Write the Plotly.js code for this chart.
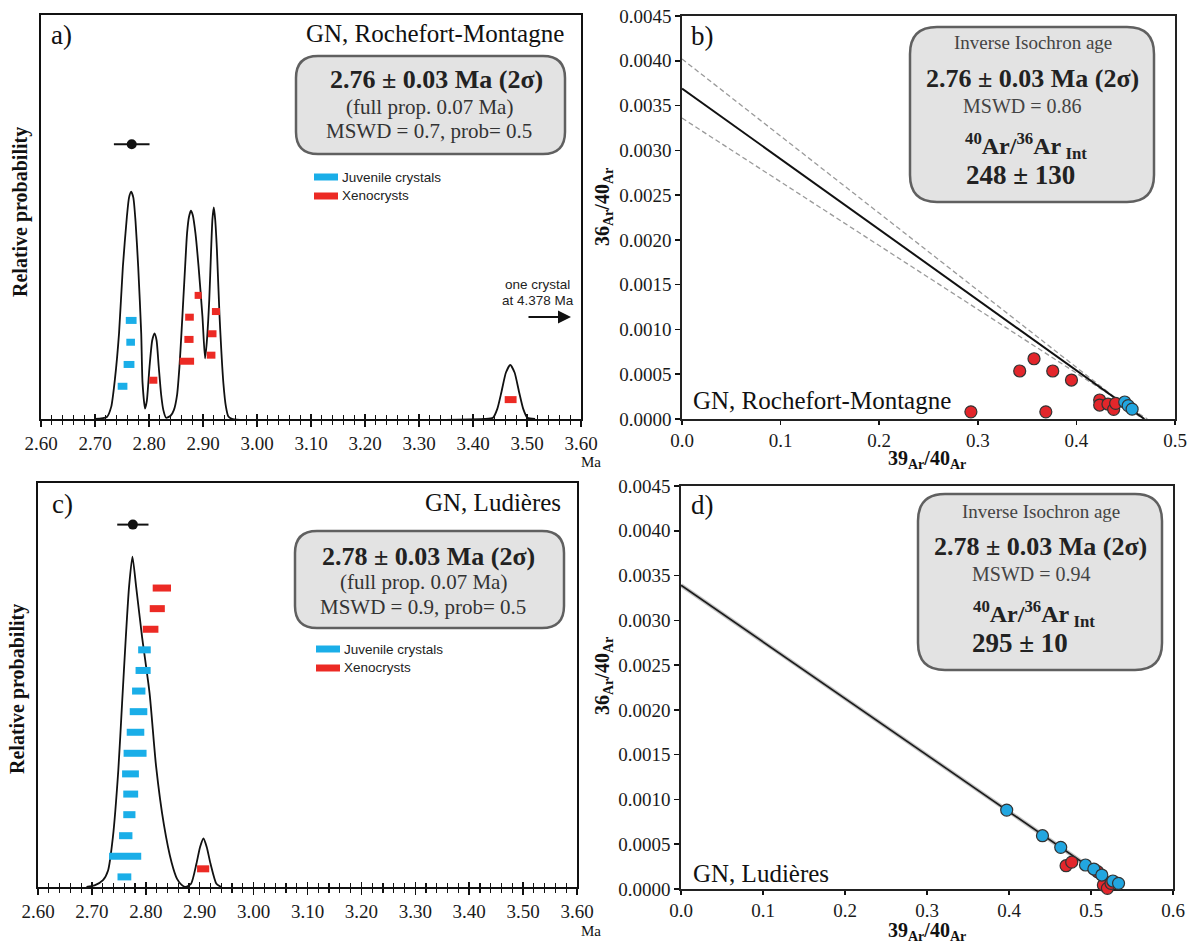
<!DOCTYPE html>
<html>
<head>
<meta charset="utf-8">
<script src="https://cdn.plot.ly/plotly-3.0.1.min.js"></script>
<style>html,body{margin:0;padding:0;background:#fff;}#chart{width:1198px;height:946px;}</style>
</head>
<body>
<div id="chart"></div>
<script>
// ---------------- DATA ----------------
// Panel a: probability density curve (age in Ma, relative probability)
const aCurveAge = [2.700, 2.722, 2.730, 2.737, 2.7445, 2.7516, 2.759, 2.763, 2.767, 2.771, 2.775, 2.780, 2.7856, 2.788, 2.7926,
  2.796, 2.801, 2.806, 2.8103, 2.814, 2.818, 2.8225, 2.8266, 2.8316,
  2.840, 2.846, 2.852, 2.8564, 2.860, 2.8635, 2.867, 2.8705, 2.874, 2.8776, 2.881, 2.886, 2.8918, 2.899, 2.9038,
  2.907, 2.9116, 2.915, 2.9175, 2.920, 2.9225, 2.9258, 2.9307, 2.9378, 2.9425, 2.947, 2.955,
  3.420, 3.437, 3.445, 3.4527, 3.461, 3.469, 3.477, 3.4853, 3.493, 3.5008, 3.515];
const aCurveProb = [0.000, 0.005, 0.030, 0.100, 0.212, 0.377, 0.500, 0.548, 0.563, 0.548, 0.490, 0.377, 0.212, 0.090, 0.026,
  0.045, 0.130, 0.195, 0.212, 0.195, 0.130, 0.060, 0.022, 0.003,
  0.008, 0.022, 0.060, 0.130, 0.210, 0.295, 0.380, 0.460, 0.500, 0.516, 0.505, 0.460, 0.377, 0.253, 0.150,
  0.190, 0.295, 0.418, 0.495, 0.524, 0.495, 0.418, 0.253, 0.088, 0.030, 0.006, 0.000,
  0.000, 0.003, 0.025, 0.067, 0.115, 0.134, 0.115, 0.067, 0.025, 0.003, 0.000];
// Panel a: single crystal ages (Ma), uncertainties, stacking level, group
const aBarAge   = [2.767, 2.766, 2.763, 2.751, 2.808, 2.870, 2.874, 2.875, 2.891, 2.915, 2.917, 2.924, 3.4697];
const aBarErr   = [0.010, 0.008, 0.010, 0.009, 0.0075, 0.0135, 0.0085, 0.008, 0.0065, 0.008, 0.008, 0.0075, 0.011];
const aBarLevel = [0.244, 0.190, 0.135, 0.081, 0.096, 0.143, 0.197, 0.252, 0.306, 0.158, 0.211, 0.266, 0.048];
const aBarGroup = ['J','J','J','J','X','X','X','X','X','X','X','X','X'];
const aMeanAge = [2.768], aMeanErr = [0.033], aMeanLevel = [0.680];

// Panel b: inverse isochron, Rochefort-Montagne
const bXenoX = [0.293, 0.3425, 0.357, 0.369, 0.376, 0.395, 0.4236, 0.4236, 0.432, 0.4378, 0.4398];
const bXenoY = [0.00008, 0.000536, 0.000673, 0.00008, 0.000536, 0.000435, 0.000212, 0.000156, 0.000167, 0.000108, 0.000175];
const bJuvX = [0.449, 0.4525, 0.4565];
const bJuvY = [0.00019, 0.00015, 0.00011];
const bFitX = [0, 0.469],   bFitY = [0.00369, 0];
const bUpX  = [0, 0.467],   bUpY  = [0.00402, 0];
const bLoX  = [0, 0.472],   bLoY  = [0.00336, 0];

// Panel c: probability density curve, Ludières
const cCurveAge = [2.690, 2.705, 2.7206, 2.730, 2.739, 2.749, 2.756, 2.763, 2.769, 2.7752, 2.782, 2.793, 2.807, 2.819, 2.8335, 2.848, 2.858, 2.866, 2.874,
  2.884, 2.894, 2.9007, 2.907, 2.913, 2.920, 2.931, 2.940];
const cCurveProb = [0.000, 0.004, 0.017, 0.041, 0.124, 0.289, 0.455, 0.620, 0.744, 0.818, 0.744, 0.620, 0.480, 0.300, 0.155, 0.060, 0.020, 0.006, 0.000,
  0.008, 0.058, 0.099, 0.120, 0.099, 0.058, 0.008, 0.000];
const cBarAge   = [2.8298, 2.8213, 2.8089, 2.7975, 2.795, 2.7869, 2.7865, 2.7809, 2.7801, 2.7716, 2.772, 2.7695, 2.7628, 2.7617, 2.7603, 2.9064];
const cBarErr   = [0.017, 0.014, 0.0145, 0.0117, 0.014, 0.0124, 0.0163, 0.0163, 0.0213, 0.0156, 0.0138, 0.0113, 0.0124, 0.0298, 0.0128, 0.0113];
const cBarLevel = [0.740, 0.689, 0.638, 0.587, 0.536, 0.485, 0.434, 0.383, 0.331, 0.280, 0.230, 0.179, 0.127, 0.076, 0.025, 0.045];
const cBarGroup = ['X','X','X','J','J','J','J','J','J','J','J','J','J','J','J','X'];
const cMeanAge = [2.776], cMeanErr = [0.029], cMeanLevel = [0.897];

// Panel d: inverse isochron, Ludières
const dXenoX = [0.4696, 0.4765, 0.5081, 0.5151, 0.520, 0.5244];
const dXenoY = [0.00026, 0.00030, 0.000193, 0.0000446, 0.0000074, 0.000063];
const dJuvX = [0.3972, 0.4408, 0.4631, 0.4933, 0.5035, 0.5132, 0.5267, 0.5336];
const dJuvY = [0.000881, 0.000595, 0.000465, 0.000268, 0.000223, 0.000156, 0.0000893, 0.000063];
const dFitX = [0, 0.5365], dFitY = [0.003392, 0];

// Axis tick labels
const ageTicks = [2.6, 2.7, 2.8, 2.9, 3.0, 3.1, 3.2, 3.3, 3.4, 3.5, 3.6];

// ---------------- STYLE / HELPERS ----------------
const W = 1198, H = 946;
const px = x => x / W;
const py = y => 1 - y / H;
const SERIF = 'Liberation Serif, DejaVu Serif, serif';
const SANS = 'Liberation Sans Narrow, Liberation Sans, Arial, sans-serif';
const BLUE = '#1aaee8', RED = '#ec2a24';
const PBLUE = '#22a6e0', PRED = '#e3262b';

function segs(ages, errs, levels, groups, g) {
  const x = [], y = [];
  ages.forEach((a, i) => {
    if (groups[i] !== g) return;
    x.push(a - errs[i], a + errs[i], null);
    y.push(levels[i], levels[i], null);
  });
  return {x, y};
}

function rrect(x0, y0, x1, y1, r) {
  const X = px, Y = py;
  return `M ${X(x0 + r)},${Y(y0)} L ${X(x1 - r)},${Y(y0)} Q ${X(x1)},${Y(y0)} ${X(x1)},${Y(y0 + r)} ` +
    `L ${X(x1)},${Y(y1 - r)} Q ${X(x1)},${Y(y1)} ${X(x1 - r)},${Y(y1)} L ${X(x0 + r)},${Y(y1)} ` +
    `Q ${X(x0)},${Y(y1)} ${X(x0)},${Y(y1 - r)} L ${X(x0)},${Y(y0 + r)} Q ${X(x0)},${Y(y0)} ${X(x0 + r)},${Y(y0)} Z`;
}

function ann(text, x, y, size, o = {}) {
  const font = Object.assign({family: SERIF, size: size, color: '#111'}, o.font || {});
  return Object.assign({
    text, x: px(x), y: py(y), xref: 'paper', yref: 'paper', showarrow: false,
    xanchor: 'center', yanchor: 'middle', borderpad: 0
  }, o, {font});
}

// ---------------- TRACES ----------------
const traces = [];
function probPanel(xa, ya, cAge, cProb, bAge, bErr, bLev, bGrp, mAge, mErr, mLev) {
  traces.push({x: cAge, y: cProb, xaxis: xa, yaxis: ya, mode: 'lines',
    line: {color: '#111', width: 1.8, shape: 'spline', smoothing: 0.6}, cliponaxis: false, hoverinfo: 'skip'});
  const sj = segs(bAge, bErr, bLev, bGrp, 'J');
  const sx = segs(bAge, bErr, bLev, bGrp, 'X');
  traces.push({x: sj.x, y: sj.y, xaxis: xa, yaxis: ya, mode: 'lines', line: {color: BLUE, width: 7}, connectgaps: false});
  traces.push({x: sx.x, y: sx.y, xaxis: xa, yaxis: ya, mode: 'lines', line: {color: RED, width: 7}, connectgaps: false});
  traces.push({x: mAge, y: mLev, xaxis: xa, yaxis: ya, mode: 'markers',
    marker: {color: '#111', size: 10},
    error_x: {type: 'data', array: mErr, visible: true, color: '#111', thickness: 2, width: 0}});
}
probPanel('x', 'y', aCurveAge, aCurveProb, aBarAge, aBarErr, aBarLevel, aBarGroup, aMeanAge, aMeanErr, aMeanLevel);
probPanel('x3', 'y3', cCurveAge, cCurveProb, cBarAge, cBarErr, cBarLevel, cBarGroup, cMeanAge, cMeanErr, cMeanLevel);
// overlay axes for crossing ticks
traces.push({x: [], y: [], xaxis: 'x5', yaxis: 'y', mode: 'lines'});
traces.push({x: [], y: [], xaxis: 'x6', yaxis: 'y3', mode: 'lines'});

// Panel b
traces.push({x: bUpX, y: bUpY, xaxis: 'x2', yaxis: 'y2', mode: 'lines', line: {color: '#9a9a9a', width: 1.3, dash: '5px,3px'}});
traces.push({x: bLoX, y: bLoY, xaxis: 'x2', yaxis: 'y2', mode: 'lines', line: {color: '#9a9a9a', width: 1.3, dash: '5px,3px'}});
traces.push({x: bFitX, y: bFitY, xaxis: 'x2', yaxis: 'y2', mode: 'lines', line: {color: '#111', width: 2}});
traces.push({x: bXenoX, y: bXenoY, xaxis: 'x2', yaxis: 'y2', mode: 'markers', cliponaxis: false,
  marker: {color: PRED, size: 12, line: {color: '#333', width: 1.2}}});
traces.push({x: bJuvX, y: bJuvY, xaxis: 'x2', yaxis: 'y2', mode: 'markers', cliponaxis: false,
  marker: {color: PBLUE, size: 12, line: {color: '#333', width: 1.2}}});

// Panel d
traces.push({x: dFitX, y: dFitY, xaxis: 'x4', yaxis: 'y4', mode: 'lines', line: {color: 'rgba(120,120,120,0.45)', width: 4}});
traces.push({x: dFitX, y: dFitY, xaxis: 'x4', yaxis: 'y4', mode: 'lines', line: {color: '#1a1a1a', width: 1.6}});
traces.push({x: dXenoX, y: dXenoY, xaxis: 'x4', yaxis: 'y4', mode: 'markers', cliponaxis: false,
  marker: {color: PRED, size: 12, line: {color: '#333', width: 1.2}}});
traces.push({x: dJuvX, y: dJuvY, xaxis: 'x4', yaxis: 'y4', mode: 'markers', cliponaxis: false,
  marker: {color: PBLUE, size: 12, line: {color: '#333', width: 1.2}}});

// ---------------- AXES ----------------
const tickFont = () => ({family: SERIF, size: 19, color: '#1a1a1a'});
function ageAxis(d0, d1, anchor) {
  return {domain: [px(d0), px(d1)], range: [2.6, 3.6], anchor, tickvals: ageTicks, tickformat: '.2f',
    ticks: 'outside', ticklen: 6, tickwidth: 1.5, tickcolor: '#111',
    minor: {dtick: 0.02, tick0: 2.6, ticks: 'outside', ticklen: 4, tickwidth: 1.2, tickcolor: '#111', showgrid: false},
    showline: true, mirror: true, linewidth: 2, linecolor: '#111', showgrid: false, zeroline: false,
    tickfont: tickFont(), fixedrange: true, layer: 'below traces'};
}
function overAxis(over, anchor) {
  return {overlaying: over, anchor, range: [2.6, 3.6], tickvals: ageTicks, ticks: 'inside', ticklen: 5, tickwidth: 1.5,
    tickcolor: '#111', minor: {dtick: 0.02, tick0: 2.6, ticks: 'inside', ticklen: 4, tickwidth: 1.2, tickcolor: '#111'},
    showticklabels: false, showline: false, showgrid: false, zeroline: false};
}
function probY(d0, d1, anchor) {
  return {domain: [py(d0), py(d1)], range: [0, 1], anchor, showticklabels: false, ticks: '',
    showline: true, mirror: true, linewidth: 2, linecolor: '#111', showgrid: false, zeroline: false, layer: 'below traces'};
}
function isoX(d0, d1, anchor, max) {
  return {domain: [px(d0), px(d1)], range: [0, max], anchor, dtick: 0.1, tick0: 0, tickformat: '.1f',
    ticks: 'outside', ticklen: 4, tickwidth: 1.5, tickcolor: '#111', showline: true, mirror: true, linewidth: 1.6,
    linecolor: '#222', showgrid: false, zeroline: false, tickfont: tickFont(), layer: 'below traces'};
}
function isoY(d0, d1, anchor) {
  return {domain: [py(d0), py(d1)], range: [0, 0.0045], anchor, dtick: 0.0005, tick0: 0, tickformat: '.4f',
    ticks: 'outside', ticklen: 5, tickwidth: 1.5, tickcolor: '#111', showline: true, mirror: true, linewidth: 1.6,
    linecolor: '#222', showgrid: false, zeroline: false, tickfont: tickFont(), layer: 'below traces'};
}

// ---------------- ANNOTATIONS / SHAPES ----------------
const annotations = [];
const shapes = [];
const BOXFILL = '#e3e3e3', BOXLINE = '#606060';
// Panel a
annotations.push(ann('a)', 50, 35, 27, {xanchor: 'left'}));
annotations.push(ann('GN, Rochefort-Montagne', 565, 34, 25, {xanchor: 'right'}));
shapes.push({type: 'path', xref: 'paper', yref: 'paper', path: rrect(296, 56, 565, 154, 22), fillcolor: BOXFILL, line: {color: BOXLINE, width: 2.5}, layer: 'above'});
annotations.push(ann('<b>2.76 ± 0.03 Ma (2σ)</b>', 436, 80, 26, {font: {color: '#222'}}));
annotations.push(ann('(full prop. 0.07 Ma)', 429, 107, 21, {font: {color: '#333'}}));
annotations.push(ann('MSWD = 0.7, prob= 0.5', 429, 131, 21, {font: {color: '#333'}}));
shapes.push({type: 'line', xref: 'paper', yref: 'paper', x0: px(314), x1: px(338), y0: py(177), y1: py(177), line: {color: BLUE, width: 7}});
shapes.push({type: 'line', xref: 'paper', yref: 'paper', x0: px(314), x1: px(338), y0: py(196), y1: py(196), line: {color: RED, width: 7}});
annotations.push(ann('Juvenile crystals', 341, 177, 13.5, {xanchor: 'left', font: {family: SANS, color: '#222'}}));
annotations.push(ann('Xenocrysts', 341, 195, 13.5, {xanchor: 'left', font: {family: SANS, color: '#222'}}));
annotations.push(ann('one crystal', 537, 284, 13.5, {font: {family: SANS, color: '#222'}}));
annotations.push(ann('at 4.378 Ma', 538, 301, 13.5, {font: {family: SANS, color: '#222'}}));
annotations.push({text: '', x: px(571), y: py(317), xref: 'paper', yref: 'paper', showarrow: true, ax: -44, ay: 0,
  arrowhead: 2, arrowsize: 1.3, arrowwidth: 2, arrowcolor: '#111'});
annotations.push(ann('Ma', 591, 462, 15));
annotations.push(ann('<b>Relative probability</b>', 21, 212, 20, {textangle: -90}));

// Panel b
annotations.push(ann('b)', 690, 36, 27, {xanchor: 'left'}));
shapes.push({type: 'path', xref: 'paper', yref: 'paper', path: rrect(910, 27, 1154, 202, 27), fillcolor: BOXFILL, line: {color: BOXLINE, width: 2.5}, layer: 'above'});
annotations.push(ann('Inverse Isochron age', 1033, 43, 19, {font: {color: '#444'}}));
annotations.push(ann('<b>2.76 ± 0.03 Ma (2σ)</b>', 1032, 78, 26, {font: {color: '#222'}}));
annotations.push(ann('MSWD = 0.86', 1022, 106, 20, {font: {color: '#444'}}));
annotations.push(ann('<b><sup>40</sup>Ar/<sup>36</sup>Ar<sub> Int</sub></b>', 1026, 146, 24, {font: {color: '#222'}}));
annotations.push(ann('<b>248 ± 130</b>', 1020, 175, 27, {font: {color: '#222'}}));
annotations.push(ann('GN, Rochefort-Montagne', 692, 400, 25, {xanchor: 'left'}));
annotations.push(ann('<b>39<sub>Ar</sub>/40<sub>Ar</sub></b>', 927, 460, 20));
annotations.push(ann('<b>36<sub>Ar</sub>/40<sub>Ar</sub></b>', 603, 207, 20, {textangle: -90}));

// Panel c
annotations.push(ann('c)', 51, 504, 27, {xanchor: 'left'}));
annotations.push(ann('GN, Ludières', 562, 502, 25, {xanchor: 'right'}));
shapes.push({type: 'path', xref: 'paper', yref: 'paper', path: rrect(295, 531, 564, 628, 22), fillcolor: BOXFILL, line: {color: BOXLINE, width: 2.5}, layer: 'above'});
annotations.push(ann('<b>2.78 ± 0.03 Ma (2σ)</b>', 428, 556, 26, {font: {color: '#222'}}));
annotations.push(ann('(full prop. 0.07 Ma)', 423, 582, 21, {font: {color: '#333'}}));
annotations.push(ann('MSWD = 0.9, prob= 0.5', 423, 607, 21, {font: {color: '#333'}}));
shapes.push({type: 'line', xref: 'paper', yref: 'paper', x0: px(316), x1: px(340), y0: py(649), y1: py(649), line: {color: BLUE, width: 7}});
shapes.push({type: 'line', xref: 'paper', yref: 'paper', x0: px(316), x1: px(340), y0: py(668), y1: py(668), line: {color: RED, width: 7}});
annotations.push(ann('Juvenile crystals', 343, 649, 13.5, {xanchor: 'left', font: {family: SANS, color: '#222'}}));
annotations.push(ann('Xenocrysts', 343, 667, 13.5, {xanchor: 'left', font: {family: SANS, color: '#222'}}));
annotations.push(ann('Ma', 591, 931, 15));
annotations.push(ann('<b>Relative probability</b>', 17, 689, 20, {textangle: -90}));

// Panel d
annotations.push(ann('d)', 690, 505, 27, {xanchor: 'left'}));
shapes.push({type: 'path', xref: 'paper', yref: 'paper', path: rrect(918, 494, 1162, 670, 27), fillcolor: BOXFILL, line: {color: BOXLINE, width: 2.5}, layer: 'above'});
annotations.push(ann('Inverse Isochron age', 1041, 511, 19, {font: {color: '#444'}}));
annotations.push(ann('<b>2.78 ± 0.03 Ma (2σ)</b>', 1040, 546, 26, {font: {color: '#222'}}));
annotations.push(ann('MSWD = 0.94', 1031, 574, 20, {font: {color: '#444'}}));
annotations.push(ann('<b><sup>40</sup>Ar/<sup>36</sup>Ar<sub> Int</sub></b>', 1034, 614, 24, {font: {color: '#222'}}));
annotations.push(ann('<b>295 ± 10</b>', 1020, 643, 27, {font: {color: '#222'}}));
annotations.push(ann('GN, Ludières', 692, 873, 25, {xanchor: 'left'}));
annotations.push(ann('<b>39<sub>Ar</sub>/40<sub>Ar</sub></b>', 927, 931, 20));
annotations.push(ann('<b>36<sub>Ar</sub>/40<sub>Ar</sub></b>', 603, 676, 20, {textangle: -90}));

const layout = {
  width: W, height: H, margin: {l: 0, r: 0, t: 0, b: 0, pad: 0},
  paper_bgcolor: '#fff', plot_bgcolor: 'rgba(0,0,0,0)', showlegend: false,
  font: {family: SERIF, size: 19, color: '#111'},
  xaxis: ageAxis(41, 581, 'y'),
  yaxis: probY(419, 15, 'x'),
  xaxis2: isoX(682, 1175, 'y2', 0.5),
  yaxis2: isoY(419, 16, 'x2'),
  xaxis3: ageAxis(38, 577, 'y3'),
  yaxis3: probY(887, 483, 'x3'),
  xaxis4: isoX(681, 1173, 'y4', 0.6),
  yaxis4: isoY(889, 486, 'x4'),
  xaxis5: overAxis('x', 'y'),
  xaxis6: overAxis('x3', 'y3'),
  annotations, shapes
};

Plotly.newPlot('chart', traces, layout, {displayModeBar: false, staticPlot: true});
</script>
</body>
</html>
